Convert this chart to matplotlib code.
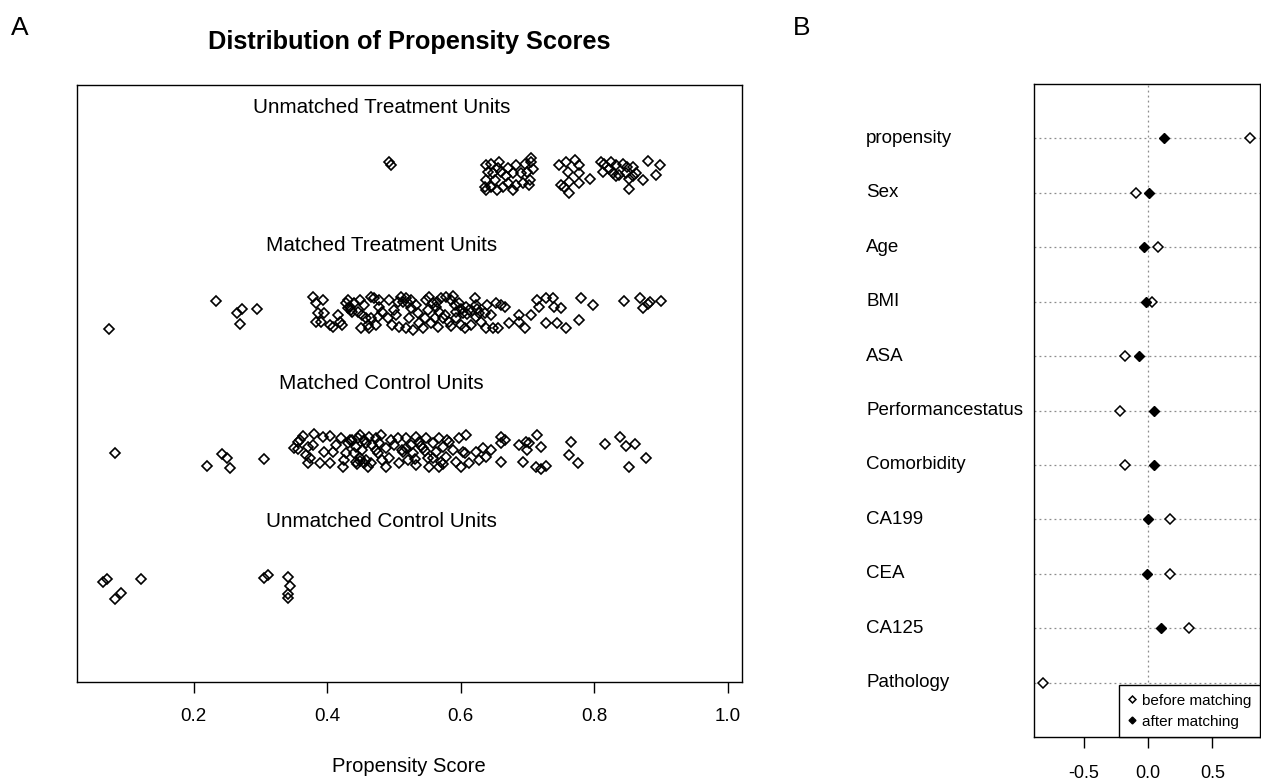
import matplotlib
matplotlib.use('Agg')
import matplotlib.pyplot as plt
import numpy as np

plt.rcParams['font.family'] = ['Liberation Sans', 'DejaVu Sans']

# ---------------- Panel A data: propensity scores (x) and vertical jitter ----------------
group_labels = ["Unmatched Treatment Units", "Matched Treatment Units",
                "Matched Control Units", "Unmatched Control Units"]
group_levels = [3.5, 2.5, 1.5, 0.5]
label_levels = [4, 3, 2, 1]

ut_x = [0.493, 0.496, 0.638, 0.646, 0.658, 0.656, 0.641, 0.649, 0.661, 0.671, 0.683, 0.696, 0.706, 0.705,
        0.638, 0.651, 0.668, 0.678, 0.691, 0.700, 0.708, 0.638, 0.646, 0.654, 0.671, 0.683, 0.694, 0.704,
        0.678, 0.703, 0.636, 0.663,
        0.748, 0.758, 0.772, 0.761, 0.778, 0.778, 0.794, 0.750, 0.763, 0.778, 0.755, 0.762,
        0.810, 0.815, 0.825, 0.823, 0.833, 0.843, 0.850, 0.858, 0.813, 0.828, 0.838, 0.848, 0.863, 0.858,
        0.833, 0.853, 0.873, 0.853, 0.880, 0.899, 0.892]
ut_j = [0.10, 0.08, 0.08, 0.09, 0.10, 0.06, 0.03, 0.02, 0.03, 0.06, 0.08, 0.09, 0.13, 0.10,
        -0.03, -0.03, 0.00, 0.02, 0.02, 0.03, 0.05, -0.10, -0.08, -0.10, -0.05, -0.06, -0.05, -0.03,
        -0.10, -0.06, -0.08, -0.08,
        0.08, 0.10, 0.12, 0.03, 0.08, 0.02, -0.02, -0.06, -0.04, -0.05, -0.08, -0.12,
        0.10, 0.09, 0.10, 0.05, 0.08, 0.09, 0.07, 0.07, 0.03, 0.02, 0.01, 0.02, 0.02, 0.00,
        0.00, -0.02, -0.03, -0.09, 0.11, 0.08, 0.01]

mt_x = [0.233, 0.074, 0.265, 0.273, 0.269, 0.295,
        0.379, 0.384, 0.394, 0.386, 0.396, 0.384, 0.391, 0.404, 0.409, 0.416, 0.419, 0.429, 0.434, 0.436,
        0.441, 0.449, 0.446, 0.453, 0.459, 0.461, 0.451, 0.466, 0.471, 0.478, 0.483, 0.476, 0.473, 0.463,
        0.493, 0.506, 0.501, 0.491, 0.498, 0.508, 0.518, 0.521, 0.526, 0.523, 0.518, 0.528, 0.536, 0.538,
        0.543, 0.533, 0.548, 0.558, 0.551, 0.563, 0.568, 0.561, 0.556, 0.573, 0.566, 0.578, 0.586, 0.591,
        0.593, 0.583, 0.593, 0.601, 0.606, 0.598, 0.608, 0.621, 0.623, 0.613, 0.623, 0.628, 0.636, 0.646,
        0.653, 0.661, 0.638, 0.648, 0.656, 0.616,
        0.666, 0.673, 0.688, 0.688, 0.696, 0.706, 0.715, 0.718, 0.728, 0.738, 0.740, 0.728, 0.750, 0.745,
        0.758, 0.780, 0.798, 0.778, 0.845, 0.868, 0.873, 0.880, 0.883, 0.900,
        0.431, 0.438, 0.432, 0.511, 0.514, 0.526, 0.553, 0.565, 0.571, 0.600, 0.603, 0.609, 0.589, 0.624,
        0.576, 0.546, 0.504, 0.466, 0.456, 0.423, 0.630, 0.640, 0.478, 0.586]
mt_j = [0.099, -0.108, 0.008, 0.039, -0.072, 0.037,
        0.128, 0.080, 0.104, 0.008, 0.008, -0.053, -0.053, -0.077, -0.089, -0.004, -0.053, 0.080, 0.056, 0.032,
        0.080, 0.104, 0.020, -0.004, -0.028, -0.077, -0.101, 0.128, 0.116, 0.056, 0.020, -0.017, -0.077, -0.101,
        0.104, 0.092, 0.032, -0.028, -0.077, -0.089, 0.116, 0.080, 0.044, -0.028, -0.101, -0.113, 0.008, -0.064,
        -0.101, 0.068, 0.104, 0.080, 0.032, 0.056, 0.020, -0.028, -0.064, -0.028, -0.089, 0.128, 0.104, 0.068,
        0.020, -0.053, -0.028, -0.077, -0.101, 0.080, 0.056, 0.116, 0.068, 0.032, -0.017, 0.008, 0.008, -0.004,
        0.080, 0.068, -0.101, -0.101, -0.101, -0.077,
        0.056, -0.064, -0.004, -0.053, -0.101, -0.004, 0.104, 0.056, 0.116, 0.116, 0.056, -0.064, 0.044, -0.064,
        -0.101, 0.116, 0.068, -0.041, 0.099, 0.116, 0.044, 0.075, 0.092, 0.099,
        0.046, 0.017, 0.104, 0.126, 0.090, 0.104, 0.128, 0.090, 0.119, 0.039, 0.010, 0.003, 0.133, 0.039,
        -0.004, -0.026, -0.004, -0.026, 0.068, -0.077, -0.055, 0.068, 0.104, -0.084]

mc_x = [0.082, 0.220, 0.243, 0.250, 0.255, 0.305,
        0.351, 0.359, 0.364, 0.381, 0.394, 0.404, 0.371, 0.379, 0.369, 0.396, 0.409, 0.371, 0.389, 0.404,
        0.424, 0.426, 0.429, 0.431, 0.438, 0.444, 0.449, 0.456, 0.463, 0.468, 0.473, 0.481, 0.444, 0.459,
        0.466, 0.476, 0.483, 0.356, 0.374,
        0.434, 0.441, 0.446, 0.449, 0.453, 0.459, 0.456, 0.461, 0.473, 0.478, 0.488, 0.488, 0.493, 0.501,
        0.506, 0.508, 0.513, 0.518, 0.521, 0.526, 0.528, 0.533, 0.538, 0.533, 0.543, 0.548, 0.551, 0.553,
        0.558, 0.563, 0.568, 0.568, 0.573, 0.578, 0.583, 0.588, 0.593, 0.598, 0.601, 0.606, 0.608, 0.613,
        0.623, 0.628, 0.633, 0.638, 0.646, 0.661, 0.661, 0.661,
        0.688, 0.698, 0.703, 0.700, 0.715, 0.721, 0.694, 0.713, 0.721, 0.728, 0.765, 0.762, 0.776, 0.816,
        0.839, 0.848, 0.861, 0.852, 0.878,
        0.514, 0.518, 0.540, 0.547, 0.570, 0.574, 0.603, 0.445, 0.450, 0.356, 0.421, 0.414, 0.496, 0.579,
        0.531, 0.558, 0.667]
mc_j = [-0.005, -0.095, -0.010, -0.037, -0.109, -0.046,
        0.031, 0.091, 0.120, 0.135, 0.115, 0.120, 0.043, 0.055, -0.017, 0.007, 0.007, -0.077, -0.077, -0.077,
        -0.102, -0.054, -0.005, 0.067, 0.091, 0.043, 0.127, 0.091, 0.115, 0.055, 0.103, 0.127, -0.066, -0.054,
        -0.077, -0.005, -0.054, 0.079, -0.041,
        0.091, -0.005, 0.103, -0.041, 0.019, 0.067, -0.077, -0.102, 0.019, 0.067, 0.031, -0.102, -0.041, 0.055,
        0.103, -0.077, 0.019, 0.103, -0.054, 0.055, -0.005, 0.115, 0.079, -0.090, 0.031, 0.103, -0.041, -0.102,
        0.067, 0.007, 0.103, -0.102, 0.043, -0.030, 0.079, 0.019, -0.066, 0.103, -0.102, -0.005, 0.127, -0.077,
        0.007, -0.054, 0.031, -0.030, 0.019, 0.115, 0.067, -0.066,
        0.055, 0.079, 0.067, 0.019, 0.127, 0.043, -0.066, -0.102, -0.121, -0.097, 0.079, -0.017, -0.073, 0.062,
        0.111, 0.048, 0.062, -0.102, -0.041,
        0.004, 0.033, 0.048, 0.012, -0.068, -0.082, 0.004, -0.082, -0.061, 0.026, 0.106, 0.055, 0.091, 0.091,
        -0.046, -0.039, 0.091]

uc_x = [0.064, 0.071, 0.082, 0.091, 0.121, 0.306, 0.311, 0.341, 0.344, 0.342, 0.342]
uc_j = [0.066, 0.085, -0.062, -0.014, 0.085, 0.090, 0.114, 0.100, 0.035, -0.023, -0.054]

score_ticks = [0.2, 0.4, 0.6, 0.8, 1.0]
score_ticklabels = ["0.2", "0.4", "0.6", "0.8", "1.0"]

# ---------------- Panel B data: standardized differences ----------------
covariates = ["propensity", "Sex", "Age", "BMI", "ASA", "Performancestatus",
              "Comorbidity", "CA199", "CEA", "CA125", "Pathology"]
before_matching = [0.79, -0.093, 0.076, 0.029, -0.179, -0.22, -0.179, 0.167, 0.167, 0.315, -0.822]
after_matching = [0.122, 0.008, -0.033, -0.018, -0.072, 0.047, 0.047, 0.0, -0.008, 0.097, np.nan]
diff_ticks = [-0.5, 0.0, 0.5]
diff_ticklabels = ["-0.5", "0.0", "0.5"]

# ---------------- Figure ----------------
W, H = 1261, 780
fig = plt.figure(figsize=(W / 100, H / 100), dpi=100)

axA = fig.add_axes([77 / W, 1 - 682 / H, 665 / W, 597 / H])
groups = [(ut_x, ut_j), (mt_x, mt_j), (mc_x, mc_j), (uc_x, uc_j)]
for (gx, gj), lev in zip(groups, group_levels):
    axA.plot(gx, [lev + j for j in gj], ls='none', marker='D', ms=5.4,
             mfc='none', mec='black', mew=1.2)
x_center = (min(uc_x + mt_x) + max(ut_x + mt_x)) / 2
for lab, lev in zip(group_labels, label_levels):
    axA.text(x_center, lev, lab, ha='center', va='center', fontsize=14.9)
axA.set_xlim(0.0255, 1.0215)
axA.set_ylim(-0.16, 4.16)
axA.set_yticks([])
axA.set_xticks(score_ticks)
axA.set_xticklabels(score_ticklabels)
axA.tick_params(axis='x', direction='out', length=8, width=1, labelsize=13.5, pad=11)
for s in axA.spines.values():
    s.set_linewidth(1.0)

fig.text(409 / W, 1 - 42 / H, "Distribution of Propensity Scores", ha='center', va='center',
         fontsize=18.3, fontweight='bold')
fig.text(409 / W, 1 - 766 / H, "Propensity Score", ha='center', va='center', fontsize=14.5)
fig.text(20 / W, 1 - 28 / H, "A", ha='center', va='center', fontsize=19)
fig.text(802 / W, 1 - 28 / H, "B", ha='center', va='center', fontsize=19)

axB = fig.add_axes([1034 / W, 1 - 737 / H, 226 / W, 653 / H])
n = len(covariates)
ypos = list(range(n, 0, -1))
for y in ypos:
    axB.axhline(y, color='#8c8c8c', ls=(0, (1.5, 2.5)), lw=0.9, zorder=0)
axB.axvline(0, color='#8c8c8c', ls=(0, (1.5, 2.5)), lw=0.9, zorder=0)
axB.plot(before_matching, ypos, ls='none', marker='D', ms=5, mfc='white', mec='black', mew=1.1,
         label='before matching', zorder=3)
axB.plot(after_matching, ypos, ls='none', marker='D', ms=5, mfc='black', mec='black', mew=1.0,
         label='after matching', zorder=4)
axB.set_xlim(-0.89, 0.87)
axB.set_ylim(0, n + 1)
axB.set_yticks([])
axB.set_xticks(diff_ticks)
axB.set_xticklabels(diff_ticklabels)
axB.tick_params(axis='x', direction='out', length=8, width=1, labelsize=13, pad=12)
for s in axB.spines.values():
    s.set_linewidth(1.0)
for lab, y in zip(covariates, ypos):
    axB.text(-0.743, y, lab, transform=axB.get_yaxis_transform(), ha='left', va='center', fontsize=13.5)
leg = axB.legend(loc='lower right', borderaxespad=0, fancybox=False, edgecolor='black', framealpha=1,
                 fontsize=11, handlelength=0.5, handletextpad=0.45, borderpad=0.55, labelspacing=0.45,
                 markerscale=0.7)
leg.get_frame().set_linewidth(1.0)

fig.savefig('out.png', dpi=100)
